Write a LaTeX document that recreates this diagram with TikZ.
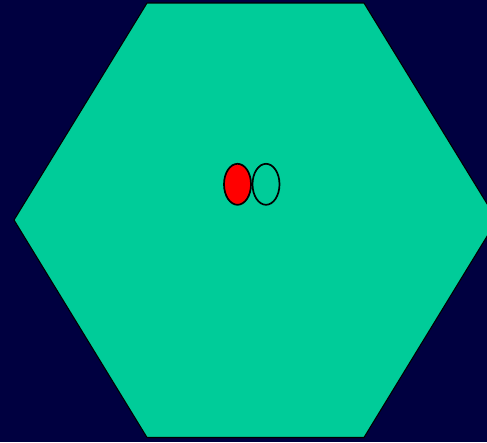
\documentclass[tikz,border=0pt]{standalone}
\usepackage{tikz}
\usetikzlibrary{shapes.geometric}
\definecolor{navybg}{HTML}{000040}
\definecolor{hexgreen}{HTML}{00CC99}
\begin{document}
\begin{tikzpicture}[
    x=1pt,
    y=-1pt,
    line join=round,
    hexface/.style={draw=black, fill=hexgreen, line width=1.1pt},
    blob/.style={ellipse, draw=black, line width=1.7pt, minimum width=27pt, minimum height=41pt, inner sep=0pt},
  ]

  \def\hexL{14}
  \def\hexR{497}
  \def\hexTL{147}
  \def\hexTR{364}
  \def\hexT{3}
  \def\hexB{437.5}
  \def\hexM{220}

  % Background
  \fill[navybg] (0,0) rectangle (487,442);
  \useasboundingbox (0,0) rectangle (487,442);

  % Hexagon
  \path[hexface] (\hexTL,\hexT) -- (\hexTR,\hexT) -- (\hexR,\hexM) -- (\hexTR,\hexB) -- (\hexTL,\hexB) -- (\hexL,\hexM) -- cycle;

  % Two ellipses
  \node[blob, fill=red] (left) at (237.5,184.3) {};
  \node[blob] (right) at (266,184.3) {};
\end{tikzpicture}
\end{document}
